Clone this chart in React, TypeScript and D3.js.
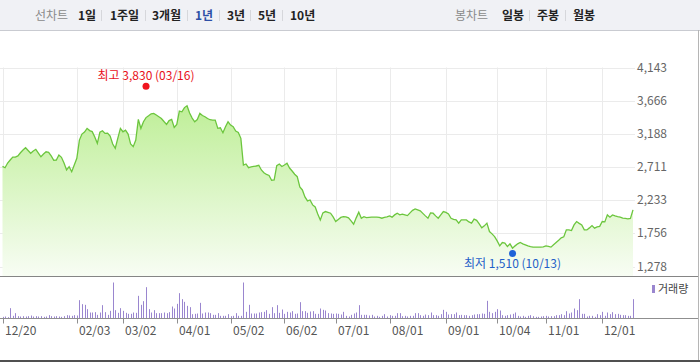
import * as d3 from "d3";

// 1년 일별 종가 (2021-12-20 ~ 2022-12-19)
const prices = [
  2720, 2700, 2768, 2811, 2854, 2854, 2870, 2916, 2955, 2988,
  2948, 2908, 2940, 2965, 2912, 2858, 2897, 2930, 2922, 2870,
  2807, 2811, 2883, 2850, 2768, 2668, 2715, 2643, 2739, 2836,
  3098, 3185, 3213, 3267, 3235, 3220, 3142, 3051, 3213, 3232,
  3195, 3199, 3156, 3041, 2980, 3127, 3267, 3218, 3242, 3185,
  3041, 3003, 3098, 3396, 3267, 3362, 3422, 3448, 3476, 3482,
  3458, 3434, 3408, 3365, 3324, 3379, 3396, 3281, 3324, 3515,
  3505, 3566, 3592, 3487, 3415, 3362, 3394, 3482, 3451, 3434,
  3408, 3391, 3386, 3386, 3267, 3275, 3203, 3290, 3362, 3314,
  3290, 3228, 3209, 3123, 2739, 2754, 2701, 2711, 2718, 2725,
  2735, 2668, 2629, 2603, 2589, 2520, 2524, 2729, 2754, 2718,
  2739, 2764, 2696, 2653, 2606, 2571, 2423, 2380, 2280, 2222,
  2236, 2165, 2136, 2035, 1949, 2050, 2069, 2057, 2045, 1992,
  1925, 1956, 1985, 1996, 1992, 1978, 1935, 1887, 1978, 2060,
  1973, 1996, 1982, 1985, 1988, 1988, 1988, 1985, 1973, 1985,
  1992, 2007, 1988, 2021, 2045, 2021, 2031, 2021, 2011, 2050,
  2086, 2107, 2093, 2079, 2043, 2007, 1973, 2050, 2045, 2007,
  1973, 2021, 2069, 2057, 2035, 1973, 1956, 1949, 1902, 1949,
  1949, 1949, 1920, 1902, 1959, 1942, 1892, 1834, 1863, 1902,
  1781, 1748, 1709, 1647, 1575, 1623, 1614, 1565, 1604, 1542,
  1575, 1604, 1623, 1604, 1590, 1575, 1565, 1557, 1557, 1557,
  1557, 1561, 1575, 1568, 1557, 1590, 1623, 1655, 1690, 1705,
  1805, 1805, 1795, 1877, 1925, 1899, 1877, 1805, 1805, 1834,
  1867, 1830, 1848, 1856, 1925, 1920, 2021, 1988, 2021, 2007,
  1996, 1988, 1973, 1970, 1963, 1970, 2093,
];

// 거래량 (상대값)
const volumes = [
  5, 6, 4, 31, 8, 16, 7, 6, 7, 6,
  7, 9, 6, 7, 6, 7, 5, 6, 10, 7,
  6, 7, 6, 5, 7, 10, 9, 8, 10, 9,
  55, 43, 41, 28, 18, 18, 19, 11, 18, 40,
  19, 11, 23, 108, 25, 17, 31, 23, 17, 14,
  14, 18, 17, 68, 41, 52, 94, 28, 18, 25,
  16, 16, 16, 18, 16, 19, 36, 30, 44, 76,
  58, 50, 38, 34, 13, 14, 15, 47, 15, 18,
  18, 16, 11, 11, 16, 8, 8, 8, 13, 7,
  8, 16, 8, 8, 108, 20, 41, 15, 15, 15,
  18, 19, 20, 25, 14, 34, 16, 40, 17, 27,
  14, 20, 18, 22, 14, 15, 49, 22, 22, 17,
  21, 22, 14, 14, 30, 26, 24, 16, 15, 14,
  15, 14, 12, 20, 8, 6, 11, 15, 18, 40,
  11, 11, 11, 9, 11, 6, 8, 5, 8, 13,
  6, 10, 8, 8, 16, 16, 7, 8, 6, 8,
  8, 16, 16, 10, 8, 12, 10, 18, 10, 10,
  8, 13, 26, 20, 12, 13, 13, 18, 10, 11,
  10, 10, 8, 10, 12, 13, 13, 15, 14, 53,
  20, 16, 20, 28, 24, 10, 8, 10, 12, 14,
  18, 8, 6, 8, 5, 8, 10, 7, 5, 5,
  6, 7, 8, 6, 7, 7, 10, 10, 13, 10,
  22, 15, 18, 30, 25, 58, 14, 14, 6, 8,
  8, 5, 13, 10, 20, 8, 18, 13, 19, 13,
  14, 11, 10, 10, 8, 8, 58,
];

const holidays = [
  "2021-12-31", "2022-01-31", "2022-02-01", "2022-02-02", "2022-03-01",
  "2022-03-09", "2022-05-05", "2022-06-01", "2022-06-06", "2022-08-15",
  "2022-09-09", "2022-09-12", "2022-10-03", "2022-10-10",
];
const startDate = "2021-12-20";
const endDate = "2022-12-19";

const xTickDates = [
  "2021-12-20", "2022-02-03", "2022-03-02", "2022-04-01", "2022-05-02", "2022-06-02",
  "2022-07-01", "2022-08-01", "2022-09-01", "2022-10-04", "2022-11-01", "2022-12-01",
];
const yTicks = [1278, 1756, 2233, 2711, 3188, 3666, 4143];

const high = { value: 3830, date: "2022-03-16", label: "최고 3,830 (03/16)" };
const low = { value: 1510, date: "2022-10-13", label: "최저 1,510 (10/13)" };

const periodTabs = ["1일", "1주일", "3개월", "1년", "3년", "5년", "10년"];
const candleTabs = ["일봉", "주봉", "월봉"];

function tradingDays(start: string, end: string, closed: string[]) {
  const out: string[] = [];
  const skip = new Set(closed);
  let t = Date.parse(start + "T00:00:00Z");
  const last = Date.parse(end + "T00:00:00Z");
  while (t <= last) {
    const d = new Date(t);
    const dow = d.getUTCDay();
    const s = d.toISOString().slice(0, 10);
    if (dow !== 0 && dow !== 6 && !skip.has(s)) out.push(s);
    t += 86400000;
  }
  return out;
}

const FONT = "'Noto Sans CJK KR', 'Noto Sans', sans-serif";

export default function App() {
  const width = 700;
  const height = 362;
  const dates = tradingDays(startDate, endDate, holidays);
  const data = dates.map((d, i) => ({ date: d, close: prices[i], vol: volumes[i] }));

  const plotTop = 67.5;
  const plotBottom = 276.5;
  const volBase = 318.5;

  const x = d3.scalePoint<string>().domain(dates).range([2.5, 633]);
  const y = d3.scaleLinear().domain([1278, 4143]).range([266.5, 67.5]);
  const yVol = d3
    .scaleLinear()
    .domain([0, d3.max(volumes) || 1])
    .range([volBase, volBase - 36]);

  const line = d3
    .line<(typeof data)[number]>()
    .x((d) => x(d.date)!)
    .y((d) => y(d.close));
  const area = d3
    .area<(typeof data)[number]>()
    .x((d) => x(d.date)!)
    .y0(plotBottom)
    .y1((d) => y(d.close));

  const tabX = [78, 110, 152, 195, 227, 258, 290];
  const sepX = [101.5, 145.5, 187.5, 219.5, 250.5, 282.5];
  const candleX = [502, 537, 573];
  const candleSep = [529.5, 565.5];
  const markerGap = 3;

  return (
    <svg
      width={width}
      height={height}
      style={{ position: "absolute", left: 0, top: 0, fontFamily: FONT }}
    >
      <defs>
        <linearGradient id="areaFill" gradientUnits="userSpaceOnUse" x1={0} x2={0} y1={100} y2={plotBottom}>
          <stop offset="0%" stopColor="#bdee95" />
          <stop offset="100%" stopColor="#f8fdf4" />
        </linearGradient>
      </defs>
      <rect width={width} height={height} fill="#fff" />

      {/* 상단 탭 */}
      <rect width={width} height={30} fill="#f0f1f5" />
      <line x1={0} x2={width} y1={30.5} y2={30.5} stroke="#c9cbd1" />
      <text x={35} y={19.5} fontSize={12} fill="#8a8a8a">선차트</text>
      {periodTabs.map((t, i) => (
        <text
          key={t}
          x={tabX[i]}
          y={19.5}
          fontSize={12}
          fontWeight="bold"
          fill={t === "1년" ? "#2d4fa6" : "#222"}
        >
          {t}
        </text>
      ))}
      {sepX.map((sx) => (
        <line key={sx} x1={sx} x2={sx} y1={10} y2={21} stroke="#d6d7db" />
      ))}
      <text x={455} y={19.5} fontSize={12} fill="#8a8a8a">봉차트</text>
      {candleTabs.map((t, i) => (
        <text key={t} x={candleX[i]} y={19.5} fontSize={12} fontWeight="bold" fill="#222">
          {t}
        </text>
      ))}
      {candleSep.map((sx) => (
        <line key={sx} x1={sx} x2={sx} y1={10} y2={21} stroke="#d6d7db" />
      ))}

      {/* 격자 */}
      {yTicks.map((t) => (
        <line key={t} x1={0} x2={635} y1={Math.round(y(t)) + 0.5} y2={Math.round(y(t)) + 0.5} stroke="#ebebeb" />
      ))}
      {xTickDates.map((d) => {
        const gx = Math.round(x(d)!) + 0.5;
        return <line key={d} x1={gx} x2={gx} y1={plotTop} y2={plotBottom} stroke="#ebebeb" />;
      })}

      {/* 가격 영역 */}
      <path d={area(data) || ""} fill="url(#areaFill)" />
      <path d={line(data) || ""} fill="none" stroke="#6cc63e" strokeWidth={1.3} />

      {yTicks.map((t) => (
        <text
          key={t}
          x={667}
          y={y(t)}
          dy="0.35em"
          textAnchor="end"
          fontSize={12}
          fill="#666"
        >
          {d3.format(",")(t)}
        </text>
      ))}

      {/* 최고 / 최저 */}
      <circle cx={x(high.date)} cy={y(high.value) - markerGap} r={3.5} fill="#f0141e" />
      <text
        x={x(high.date)}
        y={y(high.value) - markerGap - 10}
        dy="0.35em"
        textAnchor="middle"
        fontSize={12}
        fill="#e8101a"
      >
        {high.label}
      </text>
      <circle cx={x(low.date)} cy={y(low.value) + markerGap} r={3.5} fill="#1f63d8" />
      <text
        x={x(low.date)}
        y={y(low.value) + markerGap + 10}
        dy="0.35em"
        textAnchor="middle"
        fontSize={12}
        fill="#1f5fc8"
      >
        {low.label}
      </text>

      <line x1={0} x2={698} y1={plotBottom} y2={plotBottom} stroke="#858585" />

      {/* 거래량 */}
      {data.map((d) => {
        const bx = Math.round(x(d.date)!) + 0.5;
        return (
          <line key={d.date} x1={bx} x2={bx} y1={volBase} y2={yVol(d.vol)} stroke="#9a86cf" />
        );
      })}
      <line x1={0} x2={698} y1={volBase} y2={volBase} stroke="#8f8f8f" />
      {xTickDates.map((d) => {
        const gx = Math.round(x(d)!) + 0.5;
        return (
          <g key={d}>
            <line x1={gx} x2={gx} y1={volBase} y2={volBase + 5} stroke="#8f8f8f" />
            <text x={gx + 1.5} y={331} dy="0.35em" fontSize={12} fill="#555">
              {d.slice(5, 7) + "/" + d.slice(8, 10)}
            </text>
          </g>
        );
      })}
      <rect x={652} y={285} width={3} height={8} fill="#9a86cf" />
      <text x={658} y={289.5} dy="0.35em" fontSize={11} fill="#444">거래량</text>

      <line x1={698.5} x2={698.5} y1={30} y2={height} stroke="#b5b5b5" />
      <rect x={0} y={360} width={width} height={2} fill="#505050" />
    </svg>
  );
}
